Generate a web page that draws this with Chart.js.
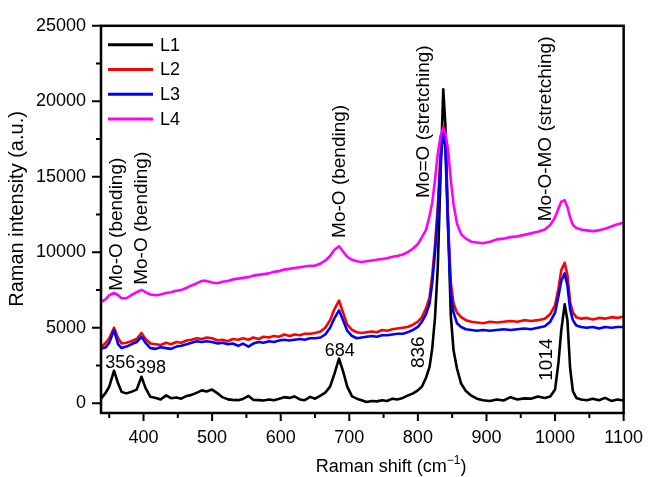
<!DOCTYPE html>
<html>
<head>
<meta charset="utf-8">
<script src="https://cdn.jsdelivr.net/npm/chart.js@4.4.0/dist/chart.umd.min.js"></script>
<style>
html, body { margin: 0; padding: 0; background: #fff; }
</style>
</head>
<body>
<canvas id="myChart" width="657" height="477"></canvas>
<script>
// Raman shift positions (cm-1) shared by all four spectra
const shifts = [338,345,350,357,363,368,375,382,390,397,403,410,418,425,433,440,448,455,463,470,
  478,485,492,500,508,515,523,530,538,545,553,560,568,575,583,590,598,605,613,620,
  628,635,643,650,658,665,672,678,685,691,697,704,711,718,725,733,740,748,755,763,
  770,778,785,793,800,806,812,817,821,825,829,833,837,840,844,848,852,857,863,870,
  878,886,895,905,915,925,935,945,955,965,975,985,993,1000,1005,1009,1014,1018,1022,1026,
  1031,1038,1046,1055,1064,1073,1082,1091,1100];

const l1 = [300,700,1100,2150,1300,750,650,750,900,1750,1000,420,350,250,520,330,380,300,480,550,
  700,850,780,900,650,400,250,220,200,280,480,220,200,180,250,200,300,400,350,450,
  250,200,420,300,500,700,1100,1900,2950,2100,1100,450,300,200,80,150,120,200,150,300,
  250,350,500,650,850,1100,1700,2400,3650,5700,9000,15000,20800,18500,12000,5800,3500,2300,1300,800,
  500,300,200,150,250,180,400,250,320,300,450,350,450,900,2700,4800,6550,5500,2300,800,
  350,250,200,300,200,350,150,250,180];

const l2 = [3700,4000,4300,5000,4300,3950,4000,4100,4250,4650,4250,3950,3900,3850,4000,3900,4050,4000,4150,4200,
  4300,4250,4350,4300,4150,4200,4100,4250,4200,4300,4200,4350,4250,4400,4350,4450,4400,4550,4450,4550,
  4500,4600,4600,4650,4750,5000,5500,6200,6800,6000,5200,4850,4700,4650,4700,4750,4700,4850,4800,4900,
  4950,5000,5050,5200,5400,5700,6300,7000,8500,10500,13000,16500,18300,17300,12000,8000,6600,6000,5700,5500,
  5400,5350,5300,5400,5350,5400,5450,5400,5500,5450,5500,5600,5900,6500,7600,8800,9300,8500,6700,6000,
  5700,5600,5650,5550,5650,5600,5700,5650,5750];

const l3 = [3600,3700,4000,4850,3900,3650,3750,3900,4050,4400,4000,3650,3600,3700,3650,3600,3750,3800,3900,4000,
  4100,4050,4100,4050,3950,4000,3900,3950,3800,3950,3750,3950,4050,4000,4100,4050,4150,4200,4150,4200,
  4250,4200,4300,4300,4350,4550,5000,5600,6150,5500,4800,4450,4300,4350,4400,4450,4400,4500,4500,4550,
  4600,4600,4700,4850,5050,5400,5900,6600,8000,10000,12500,16000,18000,17000,11500,7300,6000,5300,5050,4900,
  4850,4800,4850,4800,4850,4900,4850,4900,4950,4900,5000,5100,5400,6000,7100,8100,8600,7800,6200,5500,
  5150,5050,5000,5050,4950,5050,5000,5050,5050];

const l4 = [6700,6900,7150,7300,7150,6950,6950,7150,7350,7500,7350,7200,7150,7200,7300,7350,7450,7500,7650,7800,
  7950,8100,8100,8000,7950,8050,8100,8200,8250,8300,8350,8450,8500,8550,8600,8700,8750,8850,8900,8950,
  9000,9050,9100,9100,9250,9450,9750,10150,10400,10050,9700,9500,9400,9350,9400,9450,9500,9550,9600,9700,
  9750,9850,10000,10250,10550,11000,11500,12400,13300,14800,16500,17700,18200,17900,16800,14800,13200,11900,11200,10900,
  10700,10650,10600,10700,10850,10900,11000,11050,11150,11250,11350,11500,11800,12300,12900,13350,13450,13000,12300,11800,
  11600,11500,11450,11400,11450,11550,11700,11850,11950];

const seriesNames = ['L1', 'L2', 'L3', 'L4'];
const seriesColors = ['#000000', '#ff0000', '#0000ff', '#ff00ff'];

const xTicks = [350,400,450,500,550,600,650,700,750,800,850,900,950,1000,1050,1100];
const yTicks = [0,2500,5000,7500,10000,12500,15000,17500,20000,22500,25000];

// band assignments and peak positions written on the plot
const notes = [
  { text: 'Mo-O (bending)', x: 361, y: 7450, rot: true },
  { text: 'Mo-O (bending)', x: 397, y: 7840, rot: true },
  { text: 'Mo-O (bending)', x: 686, y: 10950, rot: true },
  { text: 'Mo=O (stretching)', x: 808, y: 13600, rot: true },
  { text: 'Mo-O-MO (stretching)', x: 987, y: 12050, rot: true },
  { text: '356', x: 366, y: 2330, rot: false },
  { text: '398', x: 411, y: 2010, rot: false },
  { text: '684', x: 686, y: 3110, rot: false },
  { text: '836', x: 802, y: 2330, rot: true },
  { text: '1014', x: 988, y: 1490, rot: true }
];

const FONT = "'Liberation Sans', Arial, Helvetica, sans-serif";

const toPoints = (vals) => vals.map((v, i) => ({ x: shifts[i], y: v }));
const allSeries = [l1, l2, l3, l4];

const datasets = allSeries.map((vals, i) => ({
    label: seriesNames[i],
    data: toPoints(vals),
    borderColor: seriesColors[i],
    backgroundColor: seriesColors[i],
    borderWidth: 2.6,
    pointRadius: 0,
    tension: 0,
    borderJoinStyle: 'round',
    order: 4 - i
}));

// frame, tick marks, titles, legend and notes
const decorations = {
    id: 'decorations',
    afterDraw(chart) {
        const ctx = chart.ctx;
        const a = chart.chartArea;
        const xs = chart.scales.x, ys = chart.scales.y;
        ctx.save();
        ctx.strokeStyle = '#000';
        ctx.fillStyle = '#000';
        ctx.lineWidth = 2.5;
        ctx.strokeRect(a.left, a.top, a.right - a.left, a.bottom - a.top);

        ctx.lineWidth = 2;
        ctx.beginPath();
        xTicks.forEach(v => {
            const px = xs.getPixelForValue(v);
            const len = v % 100 === 0 ? 8 : 5;
            ctx.moveTo(px, a.bottom);
            ctx.lineTo(px, a.bottom + len);
        });
        yTicks.forEach(v => {
            const py = ys.getPixelForValue(v);
            const len = v % 5000 === 0 ? 9 : 5;
            ctx.moveTo(a.left, py);
            ctx.lineTo(a.left - len, py);
        });
        ctx.stroke();

        // x title with superscript
        ctx.font = '18px ' + FONT;
        ctx.textBaseline = 'alphabetic';
        ctx.textAlign = 'left';
        const main = 'Raman shift (cm';
        const sup = '\u22121';
        const wMain = ctx.measureText(main).width;
        const wClose = ctx.measureText(')').width;
        ctx.font = '12px ' + FONT;
        const wSup = ctx.measureText(sup).width;
        const total = wMain + wSup + wClose;
        let tx = a.left + (a.right - a.left) * 0.555 - total / 2;
        const ty = 472;
        ctx.font = '18px ' + FONT;
        ctx.fillText(main, tx, ty);
        ctx.font = '12px ' + FONT;
        ctx.fillText(sup, tx + wMain, ty - 8);
        ctx.font = '18px ' + FONT;
        ctx.fillText(')', tx + wMain + wSup, ty);

        // y title
        ctx.save();
        ctx.translate(17.5, a.top + (a.bottom - a.top) * 0.473);
        ctx.rotate(-Math.PI / 2);
        ctx.font = '20px ' + FONT;
        ctx.textAlign = 'center';
        ctx.textBaseline = 'middle';
        ctx.fillText('Raman intensity (a.u.)', 0, 0);
        ctx.restore();

        // legend
        ctx.font = '18px ' + FONT;
        ctx.textAlign = 'left';
        ctx.textBaseline = 'middle';
        seriesNames.forEach((name, i) => {
            const y = a.top + 19 + i * 24.7;
            ctx.strokeStyle = seriesColors[i];
            ctx.lineWidth = 3;
            ctx.beginPath();
            ctx.moveTo(a.left + 7, y);
            ctx.lineTo(a.left + 52, y);
            ctx.stroke();
            ctx.fillText(name, a.left + 59, y + 1);
        });

        // notes
        notes.forEach(n => {
            const px = xs.getPixelForValue(n.x);
            const py = ys.getPixelForValue(n.y);
            if (n.rot) {
                ctx.save();
                ctx.translate(px, py);
                ctx.rotate(-Math.PI / 2);
                ctx.font = '19px ' + FONT;
                ctx.textAlign = 'left';
                ctx.textBaseline = 'middle';
                ctx.fillText(n.text, 0, 0);
                ctx.restore();
            } else {
                ctx.font = '18px ' + FONT;
                ctx.textAlign = 'center';
                ctx.textBaseline = 'alphabetic';
                ctx.fillText(n.text, px, py);
            }
        });
        ctx.restore();
    }
};

const config = {
    type: 'line',
    data: { datasets: datasets },
    options: {
        responsive: false,
        animation: false,
        devicePixelRatio: 1,
        layout: { padding: { left: 0, top: 17, right: 24, bottom: 0 } },
        plugins: {
            legend: { display: false },
            tooltip: { enabled: false }
        },
        scales: {
            x: {
                type: 'linear',
                min: 338,
                max: 1100,
                grid: { display: false, drawTicks: false },
                border: { display: false },
                afterBuildTicks: (s) => { s.ticks = xTicks.map(v => ({ value: v })); },
                afterFit: (s) => { s.height = 64; },
                ticks: {
                    color: '#000',
                    font: { family: FONT, size: 18 },
                    padding: 14,
                    autoSkip: false,
                    maxRotation: 0,
                    callback: (v) => (v % 100 === 0 ? String(v) : '')
                }
            },
            y: {
                min: -650,
                max: 25000,
                grid: { display: false, drawTicks: false },
                border: { display: false },
                afterBuildTicks: (s) => { s.ticks = yTicks.map(v => ({ value: v })); },
                afterFit: (s) => { s.width = 101; },
                ticks: {
                    color: '#000',
                    font: { family: FONT, size: 18 },
                    padding: 15,
                    autoSkip: false,
                    callback: (v) => (v % 5000 === 0 ? String(v) : '')
                }
            }
        }
    },
    plugins: [decorations]
};

const ctx = document.getElementById('myChart').getContext('2d');
const myChart = new Chart(ctx, config);
</script>
</body>
</html>
